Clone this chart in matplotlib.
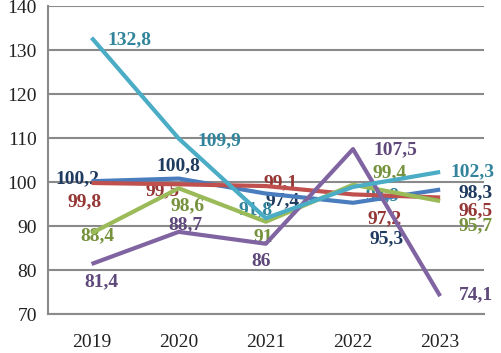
import matplotlib.pyplot as plt

years = ['2019', '2020', '2021', '2022', '2023']
blue = [100.2, 100.8, 97.4, 95.3, 98.3]
red = [99.8, 99.5, 99.1, 97.2, 96.5]
green = [88.4, 98.6, 91.0, 99.4, 95.7]
purple = [81.4, 88.7, 86.0, 107.5, 74.1]
cyan = [132.8, 109.9, 91.8, 98.9, 102.3]

plt.rcParams['font.family'] = ['Liberation Serif', 'DejaVu Serif']

# (values, line colour, label colour, label offsets in pixels)
series = [
    (blue, '#4a7dbd', '#1f3a5f', [(-14, 2), (0, 13), (17, -7), (34, -36), (35, -3)]),
    (red, '#c0504d', '#953735', [(-7, -19), (-16, -6), (15, 3), (32, -24), (35, -13)]),
    (green, '#9bbb59', '#76923c', [(6, -3), (9, -17), (-3, -16), (37, 12), (35, -25)]),
    (purple, '#8064a2', '#5f497a', [(10, -18), (7, 7), (-5, -18), (42, -1), (36, 1)]),
    (cyan, '#4bacc6', '#31849b', [(38, -2), (41, -2), (-10, 8), (30, -9), (32, 0)]),
]


def fmt(v):
    if v == int(v):
        return str(int(v))
    return f'{v:.1f}'.replace('.', ',')


fig = plt.figure(figsize=(5.02, 3.53), dpi=100)
ax = fig.add_axes([0.0956, 0.110, 0.868, 0.873])
x = range(len(years))

for vals, lc, tc, offs in series:
    ax.plot(x, vals, color=lc, linewidth=3.0, solid_capstyle='butt', zorder=3)
    for i, v in enumerate(vals):
        ax.annotate(fmt(v), (i, v), xytext=offs[i], textcoords='offset pixels',
                    ha='center', va='center', fontsize=14, fontweight='bold',
                    color=tc, zorder=2)

ax.set_xlim(-0.5, 4.5)
ax.set_ylim(70, 140)
ax.set_yticks(range(70, 141, 10))
ax.set_xticks(list(x))
ax.set_xticklabels(years)
ax.yaxis.grid(True, color='#8a8a8a', linewidth=1.5)
ax.set_axisbelow(True)
for s in ['top', 'right']:
    ax.spines[s].set_visible(False)
ax.spines['left'].set_color('#8a8a8a')
ax.spines['bottom'].set_color('#8a8a8a')
ax.spines['left'].set_linewidth(1.5)
ax.spines['bottom'].set_linewidth(1.5)
ax.tick_params(length=0, labelsize=14, colors='#222222')
ax.tick_params(axis='y', pad=8)
ax.tick_params(axis='x', pad=14)

fig.savefig('out.png', dpi=100)
